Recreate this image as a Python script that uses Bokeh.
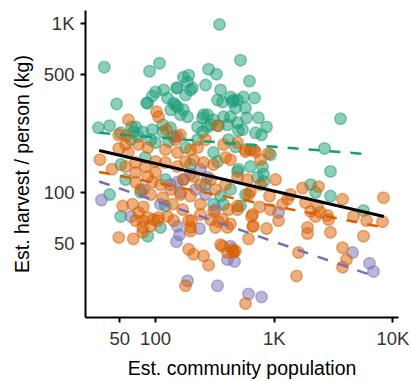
from bokeh.plotting import figure
from bokeh.models import Range1d, FixedTicker
from bokeh.embed import file_html
from bokeh.resources import INLINE

# ---- data ----
green_pop = [346, 37, 108, 89, 280, 326, 520, 619, 47, 84,
             172, 190, 186, 205, 150, 117, 100, 94, 126, 142,
             153, 172, 186, 162, 134, 264, 333, 367, 428, 491,
             472, 274, 249, 308, 374, 428, 491, 404, 339, 274,
             226, 33, 41, 63, 65, 72, 62, 91, 134, 142,
             551, 683, 454, 585, 500, 862, 782, 3619, 2654, 472,
             2981, 2022, 2228, 2981, 5653, 797, 813, 813, 491, 520,
             41, 51, 86, 110, 75, 121, 353, 308, 374, 147,
             353, 573, 254, 737, 696, 541, 291, 249, 308, 333,
             500, 631, 723, 51, 68, 78, 94, 115, 115, 100,
             129, 56, 121, 179, 197, 153, 86, 445, 226, 179,
             412, 631, 931, 82, 197, 264, 428, 573, 51]
green_harvest = [986, 551, 582, 522, 536, 501, 606, 456, 334, 338,
                 481, 494, 450, 415, 415, 404, 393, 372, 362, 338,
                 321, 308, 280, 288, 308, 432, 352, 343, 367, 352,
                 316, 288, 276, 269, 280, 280, 258, 251, 248, 244,
                 244, 241, 248, 244, 228, 214, 205, 205, 241, 214,
                 367, 362, 352, 276, 232, 244, 219, 273, 182, 186,
                 133, 111, 100, 95, 78, 142, 128, 116, 133, 83,
                 97, 72, 55, 62, 100, 83, 95, 85, 85, 329,
                 404, 316, 288, 276, 225, 235, 251, 228, 172, 152,
                 137, 142, 123, 225, 244, 228, 235, 228, 251, 197,
                 200, 119, 119, 377, 404, 415, 338, 343, 205, 184,
                 205, 179, 167, 161, 146, 111, 104, 97, 146]

orange_pop = [102, 106, 59, 333, 57, 49, 34, 56, 59, 72,
              86, 56, 68, 82, 100, 121, 68, 86, 100, 68,
              94, 53, 64, 72, 78, 78, 78, 49, 65, 96,
              106, 126, 190, 197, 291, 339, 404, 367, 445, 454,
              190, 209, 254, 280, 179, 115, 79, 68, 86, 104,
              142, 91, 197, 201, 320, 367, 428, 353, 472, 404,
              607, 657, 657, 197, 491, 226, 197, 153, 374, 491,
              573, 669, 389, 254, 308, 209, 179, 153, 491, 596,
              209, 172, 573, 696, 895, 2362, 1733, 3764, 8335, 1836,
              2317, 2022, 2455, 2813, 2868, 2228, 1909, 1909, 2981, 4658,
              5994, 8177, 5653, 3764, 4068, 3764, 1603, 1542, 573, 631,
              607, 913, 1295, 1175, 752, 491, 644, 669, 862, 1087,
              454, 49, 121, 147, 264, 110, 134, 162, 239, 291,
              320, 389, 75, 91, 139, 169, 239, 308, 412, 767,
              1026, 1372, 124, 162, 428, 767, 239, 43, 931]
orange_harvest = [300, 280, 269, 248, 216, 182, 156, 192, 172, 192,
                  184, 142, 150, 142, 152, 150, 131, 124, 131, 115,
                  115, 83, 85, 76, 68, 62, 58, 54, 53, 69,
                  71, 72, 68, 62, 69, 67, 62, 48, 46, 44,
                  46, 43, 42, 37, 28, 93, 82, 68, 71, 68,
                  68, 63, 59, 68, 62, 69, 65, 49, 45, 44,
                  53, 74, 63, 95, 83, 184, 179, 172, 192, 197,
                  179, 179, 161, 150, 146, 156, 152, 142, 123, 119,
                  124, 119, 174, 174, 170, 108, 106, 91, 93, 87,
                  83, 77, 76, 73, 69, 72, 62, 57, 58, 72,
                  68, 67, 55, 47, 40, 36, 44, 32, 22, 101,
                  97, 95, 91, 85, 82, 79, 72, 63, 61, 68,
                  45, 219, 179, 205, 205, 111, 104, 97, 111, 119,
                  104, 111, 104, 97, 85, 79, 85, 77, 79, 111,
                  119, 97, 235, 219, 156, 156, 74, 137, 79]

purple_pop = [153, 35, 62, 153, 159, 150, 235, 428, 404, 186,
              333, 1087, 463, 4570, 6352, 6866, 607, 782, 79, 153,
              172, 274, 162, 239, 197, 134, 110, 264, 320, 217]
purple_harvest = [214, 90, 72, 63, 56, 51, 61, 48, 40, 30,
                  28, 76, 39, 44, 38, 34, 25, 24, 104, 115,
                  119, 123, 100, 137, 128, 111, 85, 97, 79, 104]

# fitted lines (end points)
green_fit_pop = [33.5, 5650]
green_fit_harvest = [225, 169]
orange_fit_pop = [33.5, 8335]
orange_fit_harvest = [132, 62]
purple_fit_pop = [33.5, 6870]
purple_fit_harvest = [116, 32]
all_fit_pop = [33.5, 8400]
all_fit_harvest = [177, 72]

x_ticks = [50, 100, 1000, 10000]
x_tick_labels = ["50", "100", "1K", "10K"]
y_ticks = [50, 100, 500, 1000]
y_tick_labels = ["50", "100", "500", "1K"]

GREEN = "#1B9E77"
ORANGE = "#D95F02"
PURPLE = "#7570B3"

p = figure(width=411, height=381, x_axis_type="log", y_axis_type="log",
           x_range=Range1d(25.7, 11150), y_range=Range1d(18.15, 1193),
           output_backend="svg", toolbar_location=None,
           min_border_left=85, min_border_right=13,
           min_border_top=10, min_border_bottom=62)
p.outline_line_color = None
p.grid.visible = False
p.background_fill_color = "white"
p.border_fill_color = "white"

for pop, harv, col in [(green_pop, green_harvest, GREEN),
                       (purple_pop, purple_harvest, PURPLE),
                       (orange_pop, orange_harvest, ORANGE)]:
    p.scatter(pop, harv, size=11.5, fill_color=col, line_color=col,
              fill_alpha=0.5, line_alpha=0.5, line_width=1.5)

for fx, fy, col in [(green_fit_pop, green_fit_harvest, GREEN),
                    (orange_fit_pop, orange_fit_harvest, ORANGE),
                    (purple_fit_pop, purple_fit_harvest, PURPLE)]:
    p.line(fx, fy, line_color=col, line_width=2.5, line_dash="11 10")

p.line(all_fit_pop, all_fit_harvest, line_color="black", line_width=3)

p.xaxis.ticker = FixedTicker(ticks=x_ticks)
p.yaxis.ticker = FixedTicker(ticks=y_ticks)
p.xaxis.major_label_overrides = dict(zip(x_ticks, x_tick_labels))
p.yaxis.major_label_overrides = dict(zip(y_ticks, y_tick_labels))
p.xaxis.axis_label = "Est. community population"
p.yaxis.axis_label = "Est. harvest / person (kg)"

for ax in (p.xaxis[0], p.yaxis[0]):
    ax.axis_line_color = "black"
    ax.axis_line_width = 2
    ax.major_tick_line_color = "black"
    ax.major_tick_line_width = 2
    ax.major_tick_out = 5
    ax.major_tick_in = 0
    ax.minor_tick_out = 0
    ax.minor_tick_in = 0
    ax.major_label_text_font = "Liberation Sans"
    ax.major_label_text_font_size = "18.5px"
    ax.major_label_text_color = "#333333"
    ax.axis_label_text_font = "Liberation Sans"
    ax.axis_label_text_font_size = "19.5px"
    ax.axis_label_text_font_style = "normal"
    ax.axis_label_text_color = "black"

p.xaxis[0].major_label_standoff = 5
p.xaxis[0].axis_label_standoff = 5
p.yaxis[0].major_label_standoff = 6
p.yaxis[0].axis_label_standoff = 8

open("out.html", "w").write(file_html(p, INLINE))
